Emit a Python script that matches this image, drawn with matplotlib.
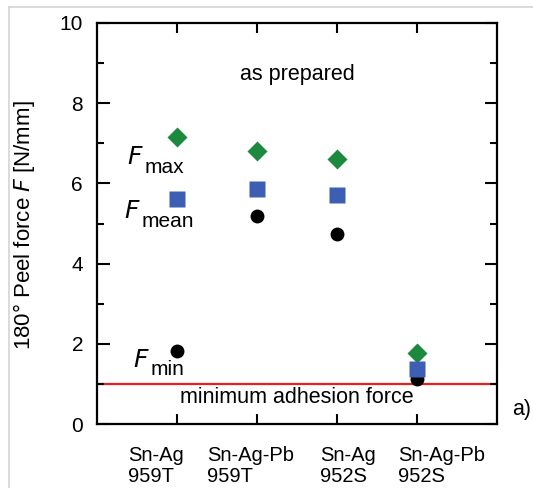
import matplotlib.pyplot as plt
from matplotlib.lines import Line2D
from matplotlib.ticker import MultipleLocator

plt.rcParams['font.family'] = ['Liberation Sans', 'DejaVu Sans']

# --------------------
# Data
# --------------------
alloys = ["Sn-Ag", "Sn-Ag-Pb", "Sn-Ag", "Sn-Ag-Pb"]
pastes = ["959T", "959T", "952S", "952S"]
pos = [1, 2, 3, 4]
f_max = [7.15, 6.80, 6.62, 1.78]
f_mean = [5.60, 5.85, 5.72, 1.38]
f_min = [1.83, 5.18, 4.75, 1.12]
min_adhesion = 1.0

# --------------------
# Plot
# --------------------
W, H = 533, 488
fig = plt.figure(figsize=(W / 100, H / 100), dpi=100)
ax = fig.add_axes([97 / W, 1 - 424 / H, 400 / W, 401 / H])

# light frame lines (left and top) around the picture
fig.add_artist(Line2D([9 / W, 9 / W], [0, 1 - 7 / H], transform=fig.transFigure,
                      color="#d4d4d4", lw=1.2))
fig.add_artist(Line2D([9 / W, 1], [1 - 7 / H, 1 - 7 / H], transform=fig.transFigure,
                      color="#d4d4d4", lw=1.2))

ax.axhline(min_adhesion, color="#e8201c", lw=1.6, zorder=1)

ax.plot(pos, f_max, ls="none", marker="D", ms=10.5, color="#1c8a3c", mec="none", zorder=3)
ax.plot(pos, f_mean, ls="none", marker="s", ms=11, color="#3c5fb5", mec="none", zorder=3)
ax.plot(pos, f_min, ls="none", marker="o", ms=10, color="black", mec="none", zorder=2)

ax.set_xlim(0, 5)
ax.set_ylim(0, 10)
ax.set_xticks(pos)
ax.set_xticklabels([])
ax.yaxis.set_major_locator(MultipleLocator(2))
ax.yaxis.set_minor_locator(MultipleLocator(1))
ax.tick_params(axis="both", which="major", direction="in", top=True, right=True,
               length=9, width=1.5, labelsize=15, pad=10)
ax.tick_params(axis="y", which="minor", direction="in", right=True, length=5, width=1.5)
ax.tick_params(axis="x", which="major", length=7)
for s in ax.spines.values():
    s.set_linewidth(1.6)

fig.text(24 / W, 1 - 225 / H, "180° Peel force $\\mathit{F}$ [N/mm]", rotation=90,
         ha="center", va="center", fontsize=16)

# category labels, two lines, left aligned
label_x = [0.39, 1.375, 2.79, 3.76]
for x, a, p in zip(label_x, alloys, pastes):
    ax.text(x, -0.92, a, ha="left", va="baseline", fontsize=14.5, clip_on=False)
    ax.text(x, -1.45, p, ha="left", va="baseline", fontsize=14.5, clip_on=False)

ax.text(2.5, 8.72, "as prepared", ha="center", va="center", fontsize=15.5)
ax.text(2.5, 0.67, "minimum adhesion force", ha="center", va="center", fontsize=15.5)
ax.text(5.19, 0.35, "a)", ha="left", va="center", fontsize=15.5, clip_on=False)

ax.text(0.38, 6.65, "$\\mathit{F}$", ha="left", va="center", fontsize=18)
ax.text(0.6, 6.4, "max", ha="left", va="center", fontsize=15)
ax.text(0.34, 5.3, "$\\mathit{F}$", ha="left", va="center", fontsize=18)
ax.text(0.56, 5.05, "mean", ha="left", va="center", fontsize=15)
ax.text(0.45, 1.6, "$\\mathit{F}$", ha="left", va="center", fontsize=18)
ax.text(0.67, 1.35, "min", ha="left", va="center", fontsize=15)

fig.savefig("out.png", dpi=100)
